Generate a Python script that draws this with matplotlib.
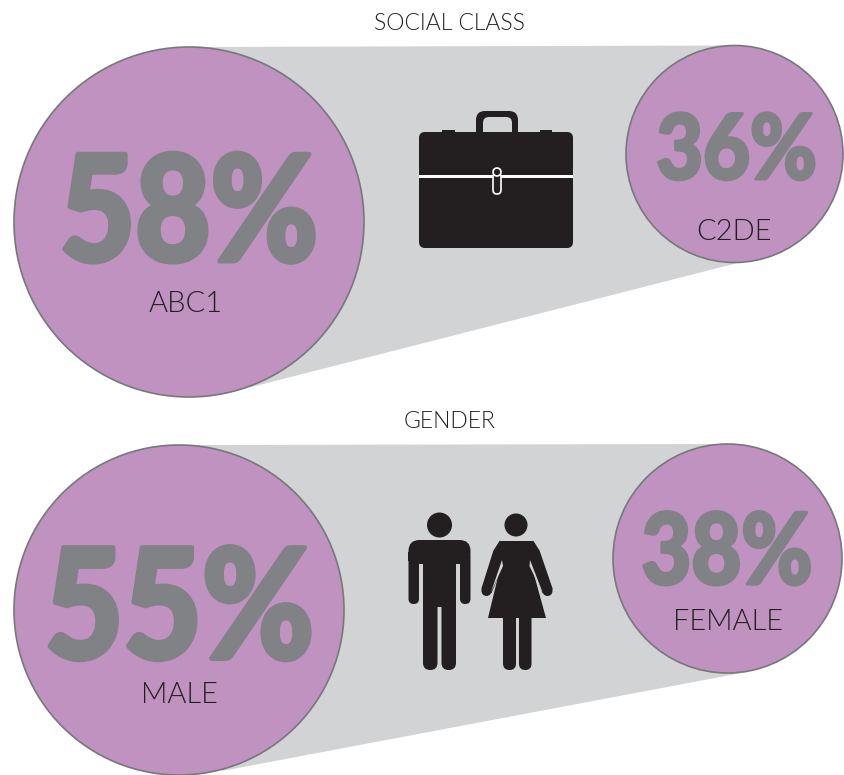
import matplotlib
matplotlib.use('Agg')
import matplotlib.pyplot as plt
from matplotlib.patches import Circle, Polygon, FancyBboxPatch, Rectangle
from matplotlib.patheffects import AbstractPathEffect
from matplotlib.transforms import Affine2D

# section titles and values
titles = ['SOCIAL CLASS', 'GENDER']
left_values = ['58%', '55%']
right_values = ['36%', '38%']
left_labels = ['ABC1', 'MALE']
right_labels = ['C2DE', 'FEMALE']

PURPLE = '#bf92c0'
CONE = '#d1d3d4'
EDGE = '#77787b'
NUM = '#808285'
ICON = '#231f20'

fig = plt.figure(figsize=(8.45, 7.75), dpi=100)
ax = fig.add_axes([0, 0, 1, 1])
ax.set_xlim(0, 845)
ax.set_ylim(775, 0)
ax.axis('off')


class Heavy(AbstractPathEffect):
    # the big numbers are a heavy condensed face: squeeze the glyphs and thicken them
    def __init__(self, sx, cx, stroke):
        super().__init__()
        self.sx = sx
        self.cx = cx
        self.stroke = stroke

    def draw_path(self, renderer, gc, tpath, affine, rgbFace=None):
        squeeze = Affine2D().translate(-self.cx, 0).scale(self.sx, 1).translate(self.cx, 0)
        gc0 = renderer.new_gc()
        gc0.copy_properties(gc)
        gc0.set_linewidth(self.stroke)
        gc0.set_foreground(NUM)
        gc0.set_joinstyle('round')
        renderer.draw_path(gc0, tpath, affine + squeeze, rgbFace)
        gc0.restore()


def number(x, y, s, size, sx, stroke):
    t = ax.text(x, y, s, family='Lato', weight=900, fontsize=size, color=NUM,
                ha='center', va='baseline', zorder=3)
    t.set_path_effects([Heavy(sx, x, stroke)])


def label(x, y, s, size=21):
    ax.text(x, y, s, family='Lato', weight=300, fontsize=size, color=ICON,
            ha='center', va='baseline', zorder=3)


def rounded(x, y, w, h, r, color=ICON, z=3):
    ax.add_patch(FancyBboxPatch((x, y), w, h, boxstyle=f'round,pad=0,rounding_size={r}',
                                fc=color, ec='none', zorder=z))


def bubbles(left, right, cone):
    ax.add_patch(Polygon(cone, closed=True, fc=CONE, ec='none', zorder=1))
    for cx, cy, r in (left, right):
        ax.add_patch(Circle((cx, cy), r, fc=PURPLE, ec=EDGE, lw=1.2, zorder=2))


# social class
bubbles((189, 222, 175), (734.5, 154, 108.5),
        [(189, 47), (735, 45.5), (765, 256), (232, 392)])
label(449.5, 30, titles[0], 16.5)
number(189, 261, left_values[0], 106, 0.883, 3.5)
number(736.5, 179, right_values[0], 65, 0.896, 2.2)
label(186, 312, left_labels[0])
label(734.5, 240, right_labels[0])

# gender
bubbles((179, 610, 165), (727.5, 558.5, 114.5),
        [(180, 445), (728, 444), (752, 671), (222, 771)])
label(449.5, 428, titles[1], 16.5)
number(179.5, 658.5, left_values[1], 110, 0.887, 3.6)
number(727, 584, right_values[1], 71, 0.874, 2.4)
label(179.5, 703, left_labels[1])
label(728.5, 630, right_labels[1])

# briefcase
rounded(476, 111, 42, 30, 9)
rounded(483, 117, 29, 25, 6, color=CONE, z=3.1)
ax.add_patch(Rectangle((442, 130), 13, 3, fc=ICON, ec='none', zorder=3))
ax.add_patch(Rectangle((540, 130), 12.5, 3, fc=ICON, ec='none', zorder=3))
rounded(419, 132, 154, 116, 6, z=3.2)
ax.add_patch(Rectangle((419, 175), 154, 3, fc='white', ec='none', zorder=4))
ax.add_patch(FancyBboxPatch((493, 173), 8, 21, boxstyle='round,pad=0,rounding_size=4',
                            fc=ICON, ec='white', lw=1.2, zorder=5))
ax.add_patch(Circle((497, 172), 4, fc=ICON, ec='white', lw=1.2, zorder=6))

# man
ax.add_patch(Circle((439.5, 525), 12.5, fc=ICON, ec='none', zorder=3))
rounded(408.5, 540, 62, 24, 11)
ax.add_patch(Rectangle((408.5, 552), 62, 9, fc=ICON, ec='none', zorder=3))
rounded(408.5, 552, 10.5, 52, 5.2)
rounded(460, 552, 10.5, 52, 5.2)
ax.add_patch(Rectangle((423, 555), 33, 52, fc=ICON, ec='none', zorder=3))
rounded(423, 595, 14.5, 75, 7.2)
rounded(441.5, 595, 14.5, 75, 7.2)

# woman
ax.add_patch(Circle((516, 525), 11.5, fc=ICON, ec='none', zorder=3))
ax.add_patch(Polygon([(500, 541), (533, 541), (530, 560), (546, 618), (488, 618), (502, 560)],
                     closed=True, fc=ICON, ec='none', zorder=3))
ax.add_patch(Polygon([(500, 541.5), (504, 560), (491, 592.5), (482, 589), (494, 551)],
                     closed=True, fc=ICON, ec=ICON, lw=1, joinstyle='round', zorder=3))
ax.add_patch(Polygon([(533, 541.5), (529, 560), (543, 592.5), (552, 589), (539, 551)],
                     closed=True, fc=ICON, ec=ICON, lw=1, joinstyle='round', zorder=3))
ax.add_patch(Polygon([(502, 560), (503, 566), (492, 590), (491, 592)], closed=True, fc=CONE, ec='none', zorder=3.1))
ax.add_patch(Polygon([(530, 560), (529.5, 566), (541, 590), (542.5, 592)], closed=True, fc=CONE, ec='none', zorder=3.1))
ax.add_patch(Circle((486.5, 591), 5, fc=ICON, ec='none', zorder=3))
ax.add_patch(Circle((547.5, 591), 5, fc=ICON, ec='none', zorder=3))
rounded(503, 610, 13, 60, 6.5)
rounded(519, 610, 12.5, 60, 6.2)

fig.savefig('out.png', dpi=100, facecolor='white')
